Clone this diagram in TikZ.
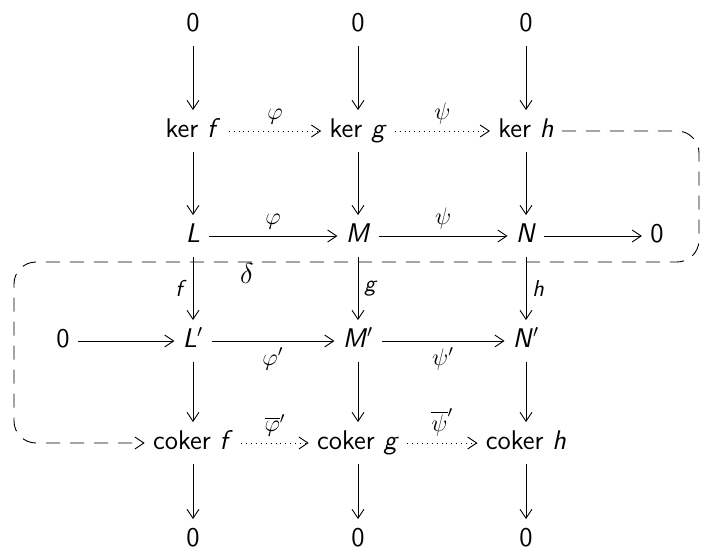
\documentclass[tikz,border=0pt]{standalone}
\usepackage{fontspec}
\usetikzlibrary{arrows.meta}
\newcommand{\vi}[1]{\textit{#1}}
\begin{document}
\begin{tikzpicture}[x=0.5pt,y=-0.5pt,
  every node/.style={font=\sffamily\fontsize{13.5}{16}\selectfont, inner sep=4pt},
  obj/.style={text height=9.5pt, text depth=3pt},
  ar/.style={draw, line width=0.45pt, -{Straight Barb[length=4.5pt,width=6pt]}},
  dt/.style={ar, dotted},
  snk/.style={ar, dash pattern=on 7pt off 5pt, rounded corners=11pt},
  lab/.style={font=\sffamily\fontsize{11.5}{13}\selectfont, inner sep=3pt}]
\useasboundingbox (0,0) rectangle (702,550);
% top zeros
\node[obj] (t1) at (193,25) {0};
\node[obj] (t2) at (358,25) {0};
\node[obj] (t3) at (526,25) {0};
% kernels
\node[obj] (k1) at (193,131) {ker \vi{f}};
\node[obj] (k2) at (358,131) {ker \vi{g}};
\node[obj] (k3) at (526,131) {ker \vi{h}};
% first exact row
\node[obj] (L) at (193,236) {\vi{L}};
\node[obj] (M) at (358,236) {\vi{M}};
\node[obj] (N) at (526,236) {\vi{N}};
\node[obj] (z1) at (657,236) {0};
% second exact row
\node[obj] (z0) at (63,341) {0};
\node[obj] (L2) at (193,341) {\vi{L}$'$};
\node[obj] (M2) at (358,341) {\vi{M}$'$};
\node[obj] (N2) at (526,341) {\vi{N}$'$};
% cokernels
\node[obj] (c1) at (193,443) {coker \vi{f}};
\node[obj] (c2) at (358,443) {coker \vi{g}};
\node[obj] (c3) at (526,443) {coker \vi{h}};
% bottom zeros
\node[obj] (b1) at (193,540) {0};
\node[obj] (b2) at (358,540) {0};
\node[obj] (b3) at (526,540) {0};
% vertical arrows
\foreach \a/\b in {t1/k1,t2/k2,t3/k3,k1/L,k2/M,k3/N,L2/c1,M2/c2,N2/c3,c1/b1,c2/b2,c3/b3}
  \draw[ar] (\a) -- (\b);
\draw[ar] (L) -- node[lab,left]{\vi{f}} (L2);
\draw[ar] (M) -- node[lab,right]{\vi{g}} (M2);
\draw[ar] (N) -- node[lab,right]{\vi{h}} (N2);
% horizontal arrows
\draw[dt] (k1) -- node[lab,above]{$\varphi$} (k2);
\draw[dt] (k2) -- node[lab,above]{$\psi$} (k3);
\draw[ar] (L) -- node[lab,above]{$\varphi$} (M);
\draw[ar] (M) -- node[lab,above]{$\psi$} (N);
\draw[ar] (N) -- (z1);
\draw[ar] (z0) -- (L2);
\draw[ar] (L2) -- node[lab,below]{$\varphi'$} (M2);
\draw[ar] (M2) -- node[lab,below]{$\psi'$} (N2);
\draw[dt] (c1) -- node[lab,above]{$\overline{\varphi}'$} (c2);
\draw[dt] (c2) -- node[lab,above]{$\overline{\psi}'$} (c3);
% snake
\coordinate (r1) at (699,131);
\coordinate (r2) at (699,262);
\coordinate (l1) at (14,262);
\coordinate (l2) at (14,443);
\draw[snk] (k3.east) -- (r1) -- (r2) -- (l1) -- (l2) -- (c1.west);
\node at (247,274) {$\delta$};
\end{tikzpicture}
\end{document}
